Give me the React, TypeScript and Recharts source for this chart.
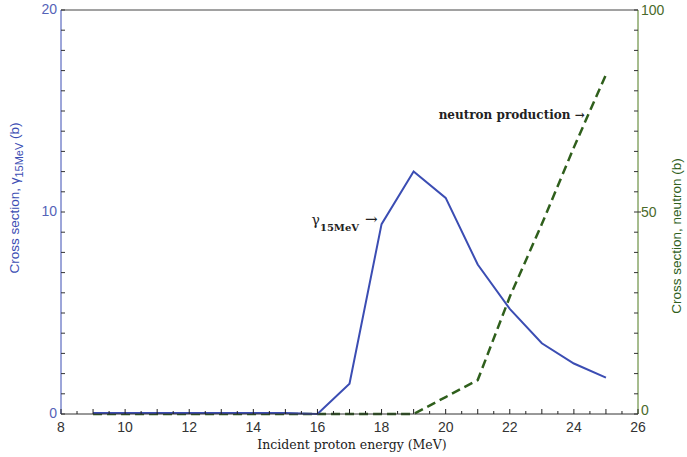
import { LineChart, Line, XAxis, YAxis, ReferenceLine, ReferenceDot } from 'recharts';

// incident proton energy (MeV)
const energy = [9, 10, 11, 12, 13, 14, 15, 16, 17, 18, 19, 20, 21, 22, 23, 24, 25];
// cross section, gamma 15 MeV (b) - left axis
const gamma15 = [0.05, 0.05, 0.05, 0.05, 0.05, 0.05, 0.05, 0, 1.5, 9.4, 12, 10.7, 7.4, 5.2, 3.5, 2.5, 1.8];
// cross section, neutron (b) - right axis
const neutron = [0, 0, 0, 0, 0, 0, 0, 0, 0, 0, 0, 4.2, 8.4, 29, 47, 66, 84];

const xTicks = Array.from({ length: 37 }, (_, i) => 8 + i * 0.5);
const leftTicks = Array.from({ length: 21 }, (_, i) => i);
const rightTicks = Array.from({ length: 21 }, (_, i) => i * 5);

const BLUE = '#3b4db3';
const GREEN = '#2f5f1c';
const num = '"Liberation Sans", Arial, sans-serif';
const serif = '"DejaVu Serif", serif';

const data = energy.map((e, i) => ({ e, gamma: gamma15[i], neutron: neutron[i] }));

const XTick = ({ x, y, payload }: any) => {
  const v = payload.value;
  const len = Number.isInteger(v) ? 5 : 3;
  return (
    <g>
      <line x1={x} x2={x} y1={y} y2={y - len} stroke="#222" strokeWidth={1} />
      {v % 2 === 0 && (
        <text x={x} y={y + 18} textAnchor="middle" fontSize={14} fontFamily={num} fill="#333">
          {v}
        </text>
      )}
    </g>
  );
};

const LeftTick = ({ x, y, payload }: any) => {
  const v = payload.value;
  return (
    <g>
      <line x1={x} x2={x + 4} y1={y} y2={y} stroke="#333" strokeWidth={1} />
      {v % 10 === 0 && (
        <text x={x - 4} y={y + 4} textAnchor="end" fontSize={14} fontFamily={num} fill="#5563b8">
          {v}
        </text>
      )}
    </g>
  );
};

const RightTick = ({ x, y, payload }: any) => {
  const v = payload.value;
  return (
    <g>
      <line x1={x - 4} x2={v === 50 ? x + 3 : x} y1={y} y2={y} stroke="#333" strokeWidth={1} />
      {v % 50 === 0 && (
        <text x={x + 3} y={v === 0 ? y + 1 : y + 5} textAnchor="start" fontSize={14} fontFamily={num} fill="#4a6a2a">
          {v}
        </text>
      )}
    </g>
  );
};

const leftLabel = () => (
  <text transform="rotate(-90, 19, 198)" x={19} y={198} textAnchor="middle" fontSize={13.5} fontFamily={num} fill={BLUE}>
    Cross section, γ<tspan dy={4} fontSize={11}>15MeV</tspan>
    <tspan dy={-4}> (b)</tspan>
  </text>
);

const rightLabel = () => (
  <text transform="rotate(-90, 681, 236)" x={681} y={236} textAnchor="middle" fontSize={13.5} fontFamily={num} fill={GREEN}>
    Cross section, neutron (b)
  </text>
);

const xLabel = () => (
  <text x={352} y={449} textAnchor="middle" fontSize={12.5} fontFamily={serif} fill="#222">
    Incident proton energy (MeV)
  </text>
);

const gammaNote = ({ viewBox }: any) => (
  <g fontFamily={serif} fill="#222">
    <text x={viewBox.x - 70} y={viewBox.y + 1} fontSize={14}>
      γ<tspan dy={6} fontSize={10} fontWeight="bold">15MeV</tspan>
    </text>
    <text x={viewBox.x - 4} y={viewBox.y} textAnchor="end" fontSize={15}>→</text>
  </g>
);

const neutronNote = ({ viewBox }: any) => (
  <text x={viewBox.x - 2} y={viewBox.y + 4} textAnchor="end" fontSize={12} fontWeight="bold" fontFamily={serif} fill="#222">
    neutron production →
  </text>
);

export default function App() {
  return (
    <div style={{ position: 'absolute', left: 0, top: 0, background: '#fff' }}>
      <LineChart width={687} height={457} data={data} margin={{ top: 10, right: 0, bottom: 0, left: 0 }}>
        <XAxis
          dataKey="e"
          type="number"
          domain={[8, 26]}
          ticks={xTicks}
          interval={0}
          tick={<XTick />}
          tickLine={false}
          tickSize={0}
          tickMargin={0}
          axisLine={{ stroke: '#333' }}
          height={43}
          label={{ content: xLabel }}
        />
        <YAxis
          yAxisId="left"
          type="number"
          domain={[0, 20]}
          ticks={leftTicks}
          interval={0}
          tick={<LeftTick />}
          tickLine={false}
          tickSize={0}
          tickMargin={0}
          axisLine={{ stroke: BLUE }}
          width={61}
          label={{ content: leftLabel }}
        />
        <YAxis
          yAxisId="right"
          orientation="right"
          type="number"
          domain={[0, 100]}
          ticks={rightTicks}
          interval={0}
          tick={<RightTick />}
          tickLine={false}
          tickSize={0}
          tickMargin={0}
          axisLine={{ stroke: '#4f7a1e' }}
          width={49}
          label={{ content: rightLabel }}
        />
        <ReferenceLine yAxisId="left" y={20} stroke="#444" />
        <Line
          yAxisId="right"
          dataKey="neutron"
          stroke={GREEN}
          strokeWidth={2.5}
          strokeDasharray="9 5"
          dot={false}
          isAnimationActive={false}
        />
        <Line
          yAxisId="left"
          dataKey="gamma"
          stroke={BLUE}
          strokeWidth={2}
          dot={false}
          isAnimationActive={false}
        />
        <ReferenceDot yAxisId="left" x={18} y={9.4} r={0} label={{ content: gammaNote }} />
        <ReferenceDot yAxisId="right" x={24.4} y={74} r={0} label={{ content: neutronNote }} />
      </LineChart>
    </div>
  );
}
